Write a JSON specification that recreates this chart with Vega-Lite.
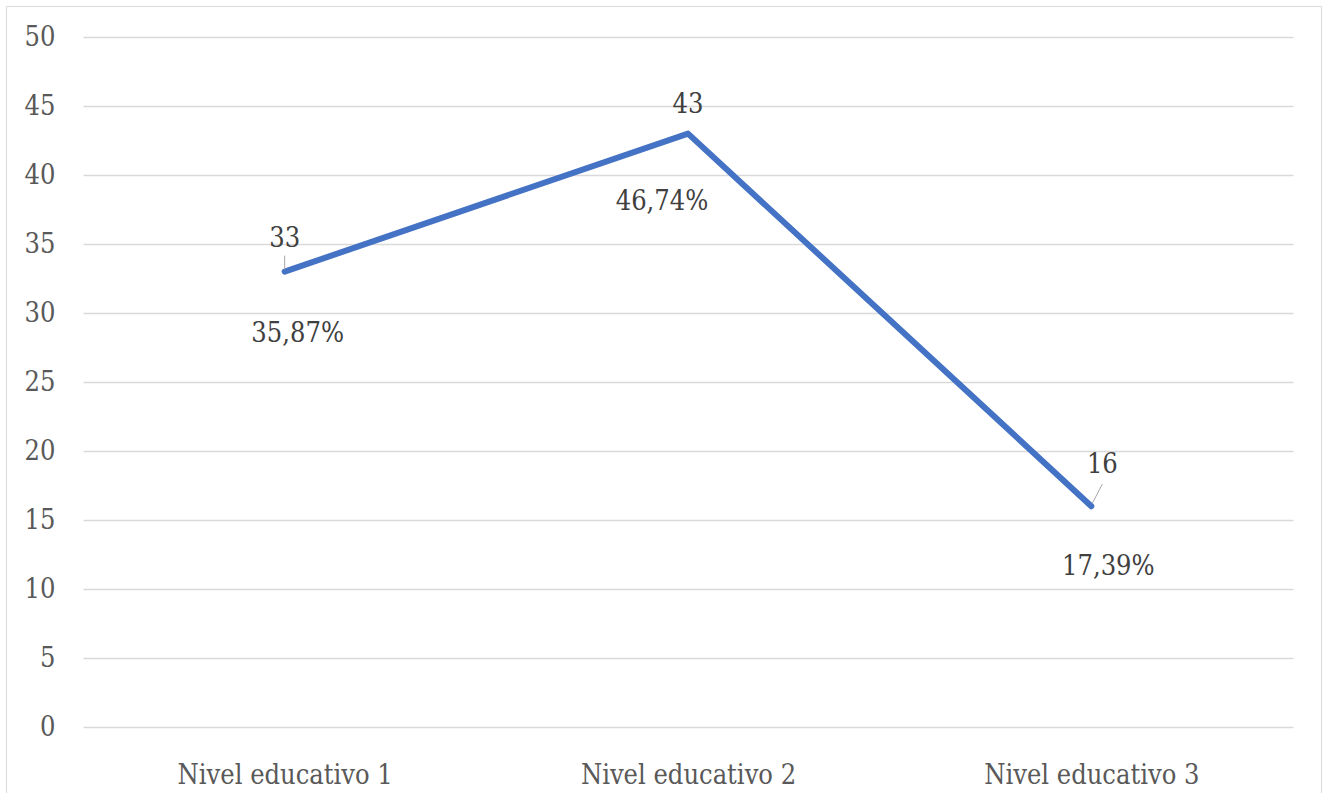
{
  "$schema": "https://vega.github.io/schema/vega-lite/v6.json",
  "width": 1315,
  "height": 800,
  "autosize": {"type": "none"},
  "padding": {"left": 6, "top": 6, "right": 7, "bottom": 0},
  "background": "white",
  "config": {
    "view": {"stroke": "#d9d9d9", "strokeWidth": 1},
    "locale": {"number": {"decimal": ",", "thousands": ".", "grouping": [3], "currency": ["", " €"]}},
    "axis": {
      "labelFont": "DejaVu Serif Condensed, DejaVu Serif",
      "labelFontSize": 27,
      "labelColor": "#595959",
      "labelLimit": 0,
      "domain": false,
      "ticks": false,
      "tickSize": 0,
      "title": null
    },
    "text": {"font": "DejaVu Serif Condensed, DejaVu Serif", "fontSize": 27, "color": "#404040", "baseline": "middle", "align": "center"}
  },
  "data": {
    "values": [
      {"nivel": "Nivel educativo 1", "cantidad": 33, "porcentaje": 0.3587},
      {"nivel": "Nivel educativo 2", "cantidad": 43, "porcentaje": 0.4674},
      {"nivel": "Nivel educativo 3", "cantidad": 16, "porcentaje": 0.1739}
    ]
  },
  "encoding": {
    "x": {
      "field": "nivel",
      "type": "nominal",
      "sort": null,
      "scale": {"type": "point", "range": [77, 1287], "padding": 0.5},
      "axis": {"labelAngle": 0, "orient": "bottom", "offset": -23, "labelBaseline": "alphabetic", "labelPadding": 0, "grid": false}
    },
    "y": {
      "field": "cantidad",
      "type": "quantitative",
      "scale": {"domain": [0, 50], "range": [721, 31], "nice": false},
      "axis": {
        "values": [0, 5, 10, 15, 20, 25, 30, 35, 40, 45, 50],
        "offset": -49,
        "labelPadding": 0,
        "grid": true,
        "gridColor": "#d9d9d9",
        "gridWidth": 1.3
      }
    }
  },
  "layer": [
    {
      "mark": {"type": "line", "color": "#4472C4", "strokeWidth": 6, "strokeCap": "round", "strokeJoin": "round"}
    },
    {
      "transform": [{"filter": "datum.nivel === 'Nivel educativo 1'"}],
      "mark": {"type": "rule", "color": "#a6a6a6", "strokeWidth": 1, "yOffset": -2, "y2Offset": -16},
      "encoding": {"y2": {"field": "cantidad"}}
    },
    {
      "transform": [{"filter": "datum.nivel === 'Nivel educativo 3'"}],
      "mark": {"type": "rule", "color": "#a6a6a6", "strokeWidth": 1, "xOffset": 1, "yOffset": -3, "x2Offset": 11, "y2Offset": -22},
      "encoding": {"x2": {"field": "nivel"}, "y2": {"field": "cantidad"}}
    },
    {
      "transform": [{"filter": "datum.nivel === 'Nivel educativo 1'"}],
      "mark": {"type": "text", "dx": 0, "dy": -33},
      "encoding": {"text": {"field": "cantidad", "type": "quantitative"}}
    },
    {
      "transform": [{"filter": "datum.nivel === 'Nivel educativo 2'"}],
      "mark": {"type": "text", "dx": 0, "dy": -29},
      "encoding": {"text": {"field": "cantidad", "type": "quantitative"}}
    },
    {
      "transform": [{"filter": "datum.nivel === 'Nivel educativo 3'"}],
      "mark": {"type": "text", "dx": 11, "dy": -41},
      "encoding": {"text": {"field": "cantidad", "type": "quantitative"}}
    },
    {
      "transform": [{"filter": "datum.nivel === 'Nivel educativo 1'"}],
      "mark": {"type": "text", "dx": 13, "dy": 62},
      "encoding": {"text": {"field": "porcentaje", "type": "quantitative", "format": ".2%"}}
    },
    {
      "transform": [{"filter": "datum.nivel === 'Nivel educativo 2'"}],
      "mark": {"type": "text", "dx": -26, "dy": 68},
      "encoding": {"text": {"field": "porcentaje", "type": "quantitative", "format": ".2%"}}
    },
    {
      "transform": [{"filter": "datum.nivel === 'Nivel educativo 3'"}],
      "mark": {"type": "text", "dx": 17, "dy": 61},
      "encoding": {"text": {"field": "porcentaje", "type": "quantitative", "format": ".2%"}}
    }
  ]
}
